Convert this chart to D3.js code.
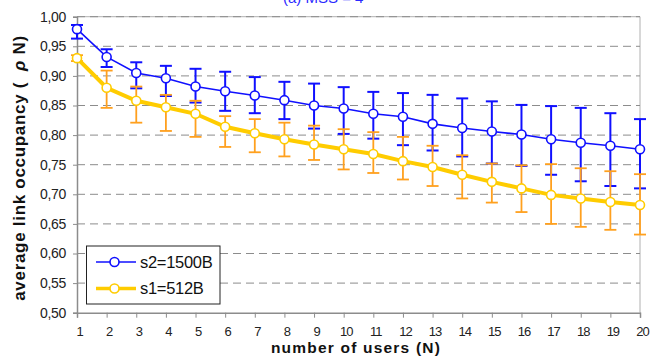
<!DOCTYPE html>
<html>
<head>
<meta charset="utf-8">
<script src="https://cdn.jsdelivr.net/npm/d3@7"></script>
<style>
  body { margin: 0; background: #fff; }
  svg { display: block; font-family: "Liberation Sans", Arial, sans-serif; }
</style>
</head>
<body>
<div id="chart"></div>
<script>
// values
const users = [1, 2, 3, 4, 5, 6, 7, 8, 9, 10, 11, 12, 13, 14, 15, 16, 17, 18, 19, 20]

const s2Mean = [0.979, 0.932, 0.905, 0.896, 0.882, 0.874, 0.867, 0.859, 0.850, 0.845,
                0.836, 0.831, 0.819, 0.812, 0.806, 0.801, 0.793, 0.787, 0.782, 0.776]
const s2High = [0.986, 0.945, 0.923, 0.917, 0.912, 0.907, 0.898, 0.890, 0.887, 0.881,
                0.873, 0.871, 0.868, 0.862, 0.857, 0.851, 0.849, 0.846, 0.837, 0.827]
const s2Low  = [0.963, 0.915, 0.879, 0.866, 0.855, 0.841, 0.837, 0.827, 0.811, 0.802,
                0.794, 0.783, 0.774, 0.764, 0.752, 0.748, 0.733, 0.722, 0.714, 0.710]

const s1Mean = [0.930, 0.880, 0.858, 0.847, 0.836, 0.814, 0.803, 0.793, 0.784, 0.776,
                0.768, 0.756, 0.746, 0.733, 0.721, 0.710, 0.699, 0.693, 0.687, 0.682]
const s1High = [0.935, 0.909, 0.882, 0.868, 0.858, 0.832, 0.827, 0.821, 0.816, 0.810,
                0.805, 0.797, 0.782, 0.766, 0.752, 0.749, 0.751, 0.744, 0.739, 0.734]
const s1Low  = [0.925, 0.846, 0.821, 0.807, 0.797, 0.780, 0.771, 0.764, 0.758, 0.742,
                0.736, 0.725, 0.714, 0.693, 0.686, 0.670, 0.650, 0.645, 0.640, 0.632]

const yTicks = [0.50, 0.55, 0.60, 0.65, 0.70, 0.75, 0.80, 0.85, 0.90, 0.95, 1.00]
const seriesNames = ['s2=1500B', 's1=512B']

const width = 662
const height = 362
const plotL = 77, plotR = 640, plotT = 16.7, plotB = 312.7

const svg = d3.select('#chart')
  .append('svg')
  .attr('width', width)
  .attr('height', height)

const x = d3.scaleLinear().domain([1, 20]).range([plotL, plotR])
const y = d3.scaleLinear().domain([0.5, 1]).range([plotB, plotT])

// cut-off title at the very top (only its lower edge shows in the picture)
svg.append('text')
  .attr('x', 283)
  .attr('y', 2.5)
  .style('font-size', '15px')
  .style('fill', '#2a2aff')
  .text('(a) MSS = 4')

// frame (top and right)
svg.append('path')
  .attr('d', `M${plotL},${plotT}H${plotR}V${plotB}`)
  .attr('fill', 'none')
  .attr('stroke', '#b0b0b0')
  .attr('stroke-width', 1)

// dashed grid
svg.append('g')
  .selectAll('line')
  .data(yTicks.filter(d => d > 0.5))
  .join('line')
  .attr('x1', plotL)
  .attr('x2', plotR)
  .attr('y1', d => y(d))
  .attr('y2', d => y(d))
  .attr('stroke', '#8c8c8c')
  .attr('stroke-width', 1)
  .attr('stroke-dasharray', '8,5')

// axes
const fmt = d => d3.format('.2f')(d).replace('.', ',')

const yAxis = svg.append('g')
  .attr('transform', `translate(${plotL},0)`)
  .call(d3.axisLeft(y).tickValues(yTicks).tickFormat(fmt).tickSize(4).tickPadding(7))
yAxis.select('.domain').attr('stroke', '#8c8c8c').attr('stroke-width', 1.5)
yAxis.selectAll('.tick line').attr('stroke', '#8c8c8c')
yAxis.selectAll('text')
  .style('font-size', '14px')
  .style('fill', '#222')
  .style('letter-spacing', '-0.3px')

const xAxis = svg.append('g')
  .attr('transform', `translate(0,${plotB})`)
  .call(d3.axisBottom(x).tickValues(users).tickFormat(d3.format('d')).tickSize(5).tickPadding(9))
xAxis.select('.domain').attr('stroke', '#8c8c8c').attr('stroke-width', 1.5)
xAxis.selectAll('.tick line').attr('stroke', '#8c8c8c')
xAxis.selectAll('text')
  .attr('dx', 2)
  .style('font-size', '13px')
  .style('fill', '#222')
  .style('letter-spacing', '-1px')

// axis titles
svg.append('text')
  .attr('x', 356)
  .attr('y', 353)
  .attr('text-anchor', 'middle')
  .style('font-size', '15.5px')
  .style('font-weight', 'bold')
  .style('letter-spacing', '1.2px')
  .style('fill', '#111')
  .text('number of users (N)')

const yTitle = svg.append('text')
  .attr('transform', 'translate(25,168) rotate(-90)')
  .attr('text-anchor', 'middle')
  .style('font-size', '17px')
  .style('font-weight', 'bold')
  .style('letter-spacing', '0.7px')
  .style('fill', '#111')
yTitle.append('tspan').text('average link occupancy (\u00a0\u00a0')
yTitle.append('tspan').style('font-style', 'italic').text('ρ')
yTitle.append('tspan').text(' N)')

// series
const series = [
  { name: seriesNames[0], mean: s2Mean, high: s2High, low: s2Low,
    line: '#1010ff', err: '#1010ff', lw: 1.6, ew: 2 },
  { name: seriesNames[1], mean: s1Mean, high: s1High, low: s1Low,
    line: '#ffcc00', err: '#ffa01e', lw: 4, ew: 1.8 }
]

const lineGen = d3.line()
  .x((d, i) => x(users[i]))
  .y(d => y(d))

series.forEach(s => {
  const g = svg.append('g')

  // error bars
  const eb = g.selectAll('.eb')
    .data(users)
    .join('g')
    .attr('stroke', s.err)
    .attr('stroke-width', s.ew)
  eb.append('line')
    .attr('x1', d => x(d)).attr('x2', d => x(d))
    .attr('y1', (d, i) => y(s.high[i])).attr('y2', (d, i) => y(s.low[i]))
  eb.append('line')
    .attr('x1', d => x(d) - 6).attr('x2', d => x(d) + 6)
    .attr('y1', (d, i) => y(s.high[i])).attr('y2', (d, i) => y(s.high[i]))
  eb.append('line')
    .attr('x1', d => x(d) - 6).attr('x2', d => x(d) + 6)
    .attr('y1', (d, i) => y(s.low[i])).attr('y2', (d, i) => y(s.low[i]))

  g.append('path')
    .datum(s.mean)
    .attr('d', lineGen)
    .attr('fill', 'none')
    .attr('stroke', s.line)
    .attr('stroke-width', s.lw)

  g.selectAll('circle')
    .data(s.mean)
    .join('circle')
    .attr('cx', (d, i) => x(users[i]))
    .attr('cy', d => y(d))
    .attr('r', 4.5)
    .attr('fill', '#fff')
    .attr('stroke', s.line)
    .attr('stroke-width', 1.6)
})

// legend
const legend = svg.append('g')
legend.append('rect')
  .attr('x', 86.5).attr('y', 246)
  .attr('width', 133.5).attr('height', 58)
  .attr('fill', '#fff')
  .attr('stroke', '#222')
  .attr('stroke-width', 1)

series.forEach((s, i) => {
  const ly = 262 + i * 26.5
  legend.append('line')
    .attr('x1', 96).attr('x2', 136)
    .attr('y1', ly).attr('y2', ly)
    .attr('stroke', s.line)
    .attr('stroke-width', i === 0 ? 1.6 : 3.5)
  legend.append('circle')
    .attr('cx', 114.5).attr('cy', ly)
    .attr('r', 4.5)
    .attr('fill', '#fff')
    .attr('stroke', s.line)
    .attr('stroke-width', 1.6)
  legend.append('text')
    .attr('x', 140).attr('y', ly)
    .attr('dy', '0.36em')
    .style('font-size', '16.5px')
    .style('fill', '#111')
    .style('letter-spacing', '-0.3px')
    .text(s.name)
})
</script>
</body>
</html>
